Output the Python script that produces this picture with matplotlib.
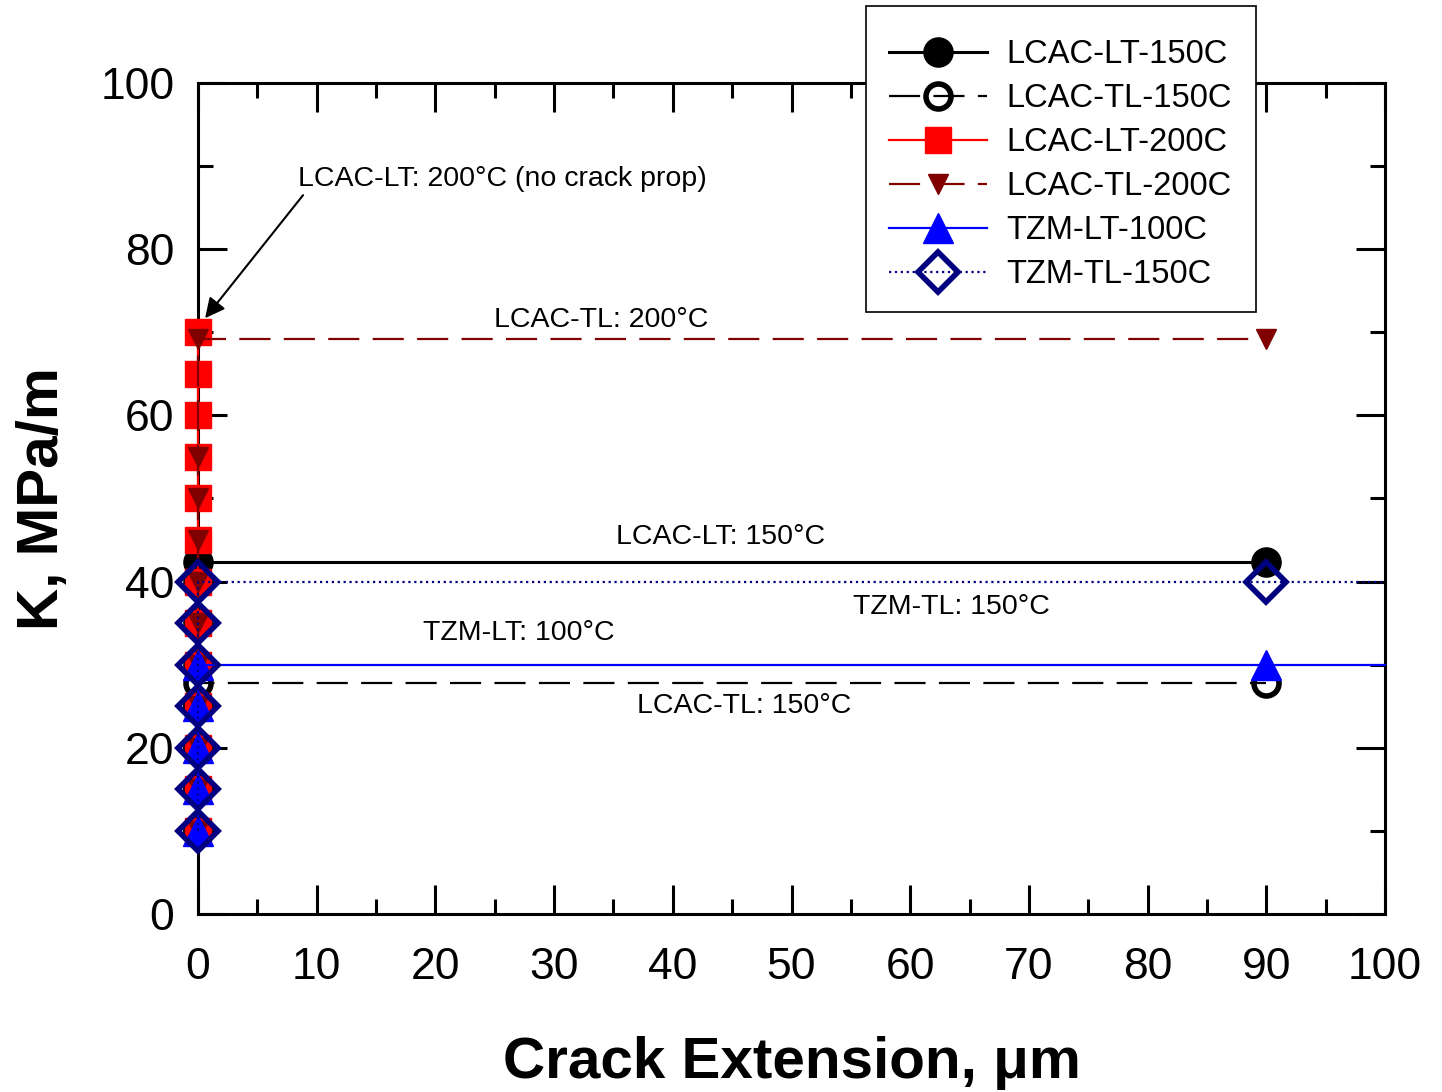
import numpy as np
import matplotlib
matplotlib.use('Agg')
import matplotlib.pyplot as plt
from matplotlib.patches import Rectangle
from matplotlib.ticker import MultipleLocator

plt.rcParams['font.family'] = ['Liberation Sans', 'DejaVu Sans']

# K vs crack extension, one series per material / orientation / temperature
lcac_lt_150_x = [0, 0, 0, 0, 0, 0, 0, 0, 90]
lcac_lt_150_k = [10, 15, 20, 25, 30, 35, 40, 42.3, 42.3]

lcac_tl_150_x = [0, 0, 0, 0, 0, 90]
lcac_tl_150_k = [10, 15, 20, 25, 27.8, 27.8]

lcac_lt_200_x = [0] * 13
lcac_lt_200_k = [10, 15, 20, 25, 30, 35, 40, 45, 50, 55, 60, 65, 70]

lcac_tl_200_x = [0, 0, 0, 0, 0, 0, 0, 0, 0, 0, 0, 90]
lcac_tl_200_k = [10, 15, 20, 25, 30, 35, 40, 45, 50, 55, 69.2, 69.2]

tzm_lt_100_x = [0, 0, 0, 0, 0, 90, 100]
tzm_lt_100_k = [10, 15, 20, 25, 30, 30, 30]

tzm_tl_150_x = [0, 0, 0, 0, 0, 0, 0, 90, 100]
tzm_tl_150_k = [10, 15, 20, 25, 30, 35, 40, 40, 40]

notes = [
    ('LCAC-TL: 200°C', 34, 71.5),
    ('LCAC-LT: 150°C', 44, 45.4),
    ('TZM-TL: 150°C', 63.5, 36.9),
    ('TZM-LT: 100°C', 27, 33.8),
    ('LCAC-TL: 150°C', 46, 25.0),
]

fig = plt.figure(figsize=(14.42, 10.92), dpi=100)
ax = fig.add_axes([0.1373, 0.163, 0.8232, 0.761])

common = dict(clip_on=False)
ax.plot(lcac_lt_150_x, lcac_lt_150_k, '-', color='black', lw=2.2,
        marker='o', ms=21, mfc='black', mec='black', label='LCAC-LT-150C',
        zorder=3, **common)
ax.plot(lcac_tl_150_x, lcac_tl_150_k, color='black', lw=1.6,
        dashes=(14, 6), marker='o', ms=18, mfc='none', mec='black', mew=4,
        label='LCAC-TL-150C', zorder=3.1, **common)
ax.plot(lcac_lt_200_x, lcac_lt_200_k, '-', color='red', lw=1.6,
        marker='s', ms=19, mfc='red', mec='red', label='LCAC-LT-200C',
        zorder=3.2, **common)
ax.plot(lcac_tl_200_x, lcac_tl_200_k, color='#800000', lw=1.6,
        dashes=(14, 6), marker='v', ms=15, mfc='#800000', mec='#800000',
        label='LCAC-TL-200C', zorder=3.3, **common)
ax.plot(tzm_lt_100_x, tzm_lt_100_k, '-', color='blue', lw=1.6,
        marker='^', ms=22, mfc='blue', mec='blue', markevery=slice(0, 6),
        label='TZM-LT-100C', zorder=3.4, **common)
ax.plot(tzm_tl_150_x, tzm_tl_150_k, ':', color='#000080', lw=1.6,
        marker='D', ms=20.5, mfc='none', mec='#000080', mew=4,
        markevery=slice(0, 8), label='TZM-TL-150C', zorder=3.5, **common)

for txt, x, y in notes:
    ax.text(x, y, txt, fontsize=20.5, ha='center', va='center')

ax.text(8.4, 88.4, 'LCAC-LT: 200°C (no crack prop)', fontsize=20.5,
        ha='left', va='center')
ax.annotate('', xy=(0.6, 71.7), xytext=(8.85, 86.5),
            arrowprops=dict(arrowstyle='-|>', color='black', lw=1.5,
                            mutation_scale=30, shrinkA=0, shrinkB=0))

ax.set_xlim(0, 100)
ax.set_ylim(0, 100)
ax.xaxis.set_major_locator(MultipleLocator(10))
ax.xaxis.set_minor_locator(MultipleLocator(5))
ax.yaxis.set_major_locator(MultipleLocator(20))
ax.yaxis.set_minor_locator(MultipleLocator(10))
ax.tick_params(which='both', direction='in', top=True, right=True,
               width=2.2, labelsize=32)
ax.tick_params(axis='x', which='major', pad=24)
ax.tick_params(axis='y', which='major', pad=17)
ax.tick_params(which='major', length=21)
ax.tick_params(which='minor', length=11)
for sp in ax.spines.values():
    sp.set_linewidth(2.2)

ax.set_xlabel('Crack Extension, μm', fontsize=42, fontweight='bold',
              labelpad=34)
ax.set_ylabel('K, MPa/m', fontsize=42, fontweight='bold', labelpad=22)

# legend box sits over the top spine, so draw a white frame first
box = Rectangle((0.6006, 0.7143), 0.2705, 0.2802, transform=fig.transFigure,
                facecolor='white', edgecolor='black', lw=1.2,
                clip_on=False, zorder=9)
ax.add_patch(box)

leg = ax.legend(loc='upper left', bbox_to_anchor=(0.6165, 0.9643),
                bbox_transform=fig.transFigure,
                fontsize=23.5, frameon=False,
                handlelength=3.0, handletextpad=0.6,
                labelspacing=0.4, borderpad=0, borderaxespad=0)
leg.set_zorder(10)

plt.savefig('out.png', dpi=100)
plt.close()
